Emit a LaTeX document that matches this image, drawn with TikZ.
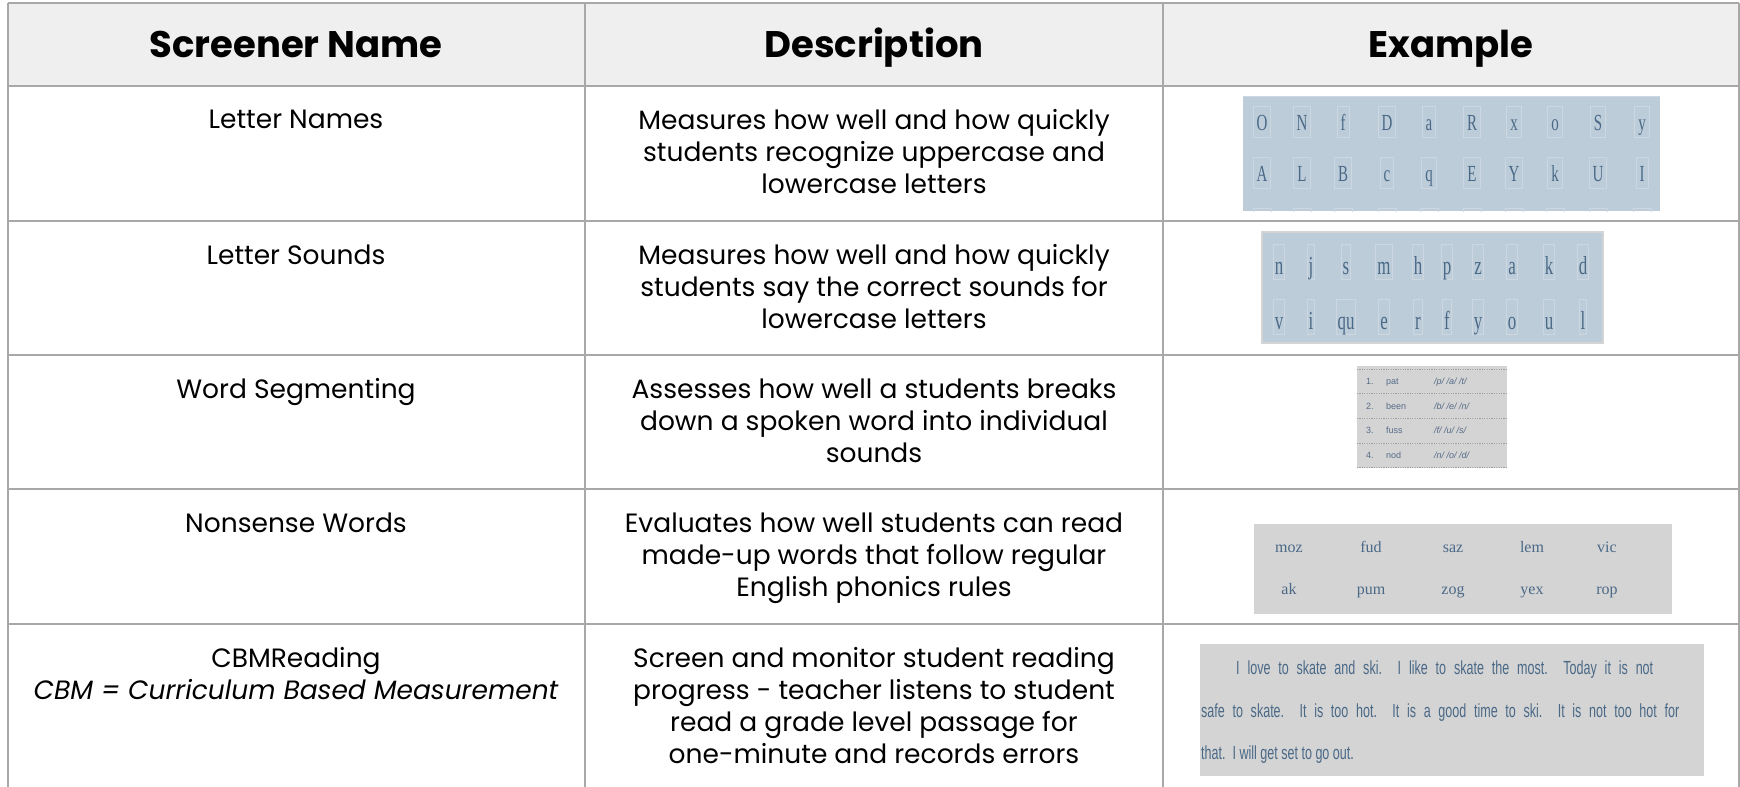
\documentclass[tikz,border=0pt]{standalone}
\usepackage{fontspec}
\setmainfont{Poppins}
\newfontfamily\serifex[FakeStretch=0.65]{Liberation Serif}
\newfontfamily\serifplain{Liberation Serif}
\newfontfamily\sansnarrow[FakeStretch=0.66]{Liberation Sans}
\newfontfamily\sansex{Liberation Sans}
\definecolor{gridc}{HTML}{A8A8A8}
\definecolor{headfill}{HTML}{EFEFEF}
\definecolor{bluebg}{HTML}{BDCCD9}
\definecolor{bluebox}{HTML}{CCD7E1}
\definecolor{inkblue}{HTML}{4A6987}
\definecolor{graybg}{HTML}{D4D4D4}
\definecolor{grayink}{HTML}{566C88}
\definecolor{dashc}{HTML}{A0A0A0}
\tikzset{
  gridline/.style={draw=gridc, line width=2pt},
  headtext/.style={anchor=base, inner sep=0pt, font=\bfseries\fontsize{37}{44}\selectfont},
  celltext/.style={anchor=north, align=center, inner sep=0pt, font=\fontsize{26.5}{32}\selectfont},
  exonebox/.style={draw=bluebox, line width=1pt, text=inkblue, font=\serifex\fontsize{23}{23}\selectfont,
    text height=16pt, text depth=0pt, minimum height=31pt, inner xsep=3.5pt, inner ysep=0pt, anchor=center},
  extwobox/.style={draw=bluebox, line width=1pt, text=inkblue, font=\serifex\fontsize{26}{26}\selectfont,
    text height=28pt, text depth=3pt, inner xsep=1.5pt, inner ysep=2pt, anchor=base},
  segtext/.style={anchor=base west, inner sep=0pt, text=grayink, font=\sansex\fontsize{9}{9}\selectfont},
  nonsense/.style={anchor=base, inner sep=0pt, text=inkblue, font=\serifplain\fontsize{16}{16}\selectfont},
  cbmtext/.style={anchor=base west, inner sep=0pt, text=inkblue, font=\sansnarrow\fontsize{19}{19}\selectfont},
}
\begin{document}
\begin{tikzpicture}[x=1pt,y=-1pt]
\useasboundingbox (0,0) rectangle (1740,787);
% header background
\fill[headfill] (8,3) rectangle (1739,86);
% grid
\foreach \yy in {3,86,221,355,489,624} \draw[gridline] (8,\yy) -- (1739,\yy);
\foreach \xx in {8,585,1163,1739} \draw[gridline] (\xx,3) -- (\xx,790);
% header
\node[headtext] (h1) at (296,57) {Screener Name};
\node[headtext] (h2) at (874,57) {Description};
\node[headtext] (h3) at (1451,57) {Example};
% column 1
\node[celltext] (n1) at (296,109.5) {Letter Names};
\node[celltext] (n2) at (296,244.5) {Letter Sounds};
\node[celltext] (n3) at (296,378.5) {Word Segmenting};
\node[celltext] (n4) at (296,512.5) {Nonsense Words};
\node[celltext] (n5) at (296,647.5) {CBMReading\\\itshape CBM = Curriculum Based Measurement};
% column 2
\node[celltext] (d1) at (874,109.5) {Measures how well and how quickly\\students recognize uppercase and\\lowercase letters};
\node[celltext] (d2) at (874,244.5) {Measures how well and how quickly\\students say the correct sounds for\\lowercase letters};
\node[celltext] (d3) at (874,378.5) {Assesses how well a students breaks\\down a spoken word into individual\\sounds};
\node[celltext] (d4) at (874,512.5) {Evaluates how well students can read\\made-up words that follow regular\\English phonics rules};
\node[celltext] (d5) at (874,647.5) {Screen and monitor student reading\\progress - teacher listens to student\\read a grade level passage for\\one-minute and records errors};
% example 1: letter names
\fill[bluebg] (1243,96) rectangle (1660,211);
\draw[bluebox, line width=1pt] (1243,96.5) -- (1660,96.5);
\foreach \xx/\la/\lb [count=\i] in {1262/O/A,1302/N/L,1343/f/B,1387/D/c,1429/a/q,1472/R/E,1514/x/Y,1555/o/k,1598/S/U,1642/y/I}{
  \node[exonebox] (ea\i) at (\xx,122) {\la};
  \node[exonebox] (eb\i) at (\xx,173) {\lb};
  \begin{scope}
    \clip (1243,196) rectangle (1660,211);
    \draw[bluebox, line width=1pt] (\xx-9,208) rectangle (\xx+9,240);
  \end{scope}
}
% example 2: letter sounds
\draw[fill=bluebg, draw=graybg, line width=2pt] (1262,232) rectangle (1603,343);
\foreach \xx/\la/\lb [count=\i] in {1279/n/v,1311/j/i,1346/s/qu,1384/m/e,1418/h/r,1447/p/f,1478/z/y,1512/a/o,1549/k/u,1583/d/l}{
  \node[extwobox] (sa\i) at (\xx,274) {\la};
  \node[extwobox] (sb\i) at (\xx,329) {\lb};
}
% example 3: word segmenting
\fill[graybg] (1357,366) rectangle (1507,468);
\foreach \yy in {369,393.7,418.4,443.1,467.8} \draw[dashc, line width=0.8pt, dash pattern=on 1.2pt off 1.2pt] (1357,\yy) -- (1507,\yy);
\foreach \numb/\wrd/\phn [count=\i] in {1./pat/{/p/ /a/ /t/},2./been/{/b/ /e/ /n/},3./fuss/{/f/ /u/ /s/},4./nod/{/n/ /o/ /d/}}{
  \pgfmathsetmacro{\yb}{384.5+24.7*(\i-1)}
  \node[segtext] (wn\i) at (1366,\yb) {\numb};
  \node[segtext] (ww\i) at (1386,\yb) {\wrd};
  \node[segtext, font=\sansex\itshape\fontsize{9}{9}\selectfont] (wp\i) at (1434,\yb) {\phn};
}
% example 4: nonsense words
\fill[graybg] (1254,524) rectangle (1672,614);
\foreach \xx/\wa/\wb [count=\i] in {1289/moz/ak,1371/fud/pum,1453/saz/zog,1532/lem/yex,1607/vic/rop}{
  \node[nonsense] (ma\i) at (\xx,552) {\wa};
  \node[nonsense] (mb\i) at (\xx,594) {\wb};
}
% example 5: CBM reading passage
\fill[graybg] (1200,644) rectangle (1704,776);
\node[cbmtext] (c1) at (1236,674) {\makebox[417pt][s]{I love to skate and ski.\ \ I like to skate the most.\ \ Today it is not}};
\node[cbmtext] (c2) at (1201,717) {\makebox[478pt][s]{safe to skate.\ \ It is too hot.\ \ It is a good time to ski.\ \ It is not too hot for}};
\node[cbmtext] (c3) at (1201,759) {that.\ \ I will get set to go out.};
\end{tikzpicture}
\end{document}
